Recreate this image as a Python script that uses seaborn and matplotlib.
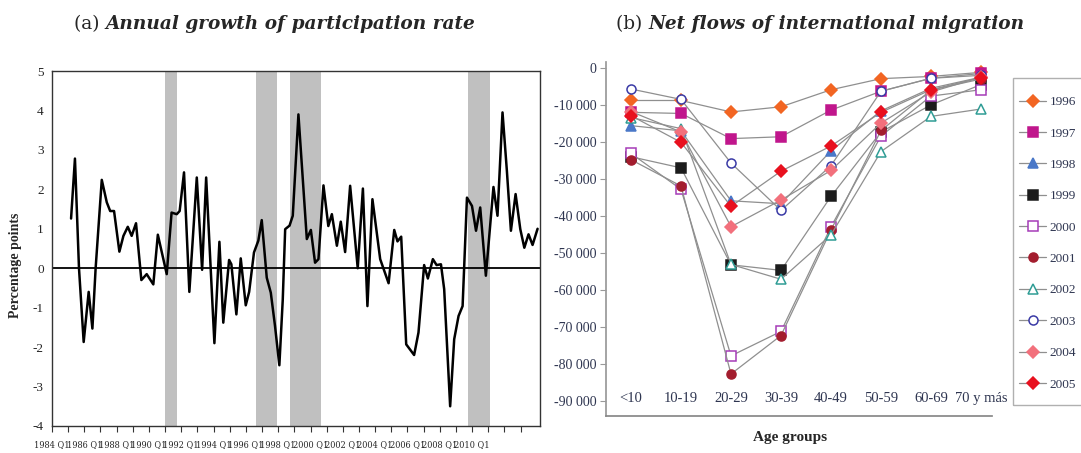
import matplotlib
matplotlib.use("Agg")
import matplotlib.pyplot as plt
from matplotlib import font_manager
from matplotlib.patches import Rectangle
import seaborn as sns

# ---------------- data: panel (a) ----------------
growth_year = [1985.18, 1985.42, 1985.67, 1985.96, 1986.27, 1986.5, 1986.7, 1987.08, 1987.39, 1987.6,
               1987.84, 1988.17, 1988.42, 1988.69, 1988.93, 1989.2, 1989.53, 1989.86, 1990.27, 1990.55,
               1991.1, 1991.4, 1991.72, 1991.9, 1992.17, 1992.5, 1992.96, 1993.29, 1993.54, 1994.05,
               1994.36, 1994.6, 1994.96, 1995.1, 1995.41, 1995.68, 1995.99, 1996.2, 1996.5, 1996.77,
               1996.98, 1997.29, 1997.54, 1997.8, 1998.07, 1998.28, 1998.43, 1998.7, 1998.9, 1999.25,
               1999.77, 2000.02, 2000.28, 2000.49, 2000.8, 2001.1, 2001.32, 2001.63, 2001.87, 2002.14,
               2002.45, 2002.92, 2003.24, 2003.52, 2003.83, 2004.31, 2004.83, 2005.18, 2005.38, 2005.61,
               2005.92, 2006.41, 2006.68, 2007.03, 2007.26, 2007.57, 2007.8, 2008.07, 2008.27, 2008.64,
               2008.89, 2009.16, 2009.41, 2009.68, 2009.99, 2010.24, 2010.5, 2010.85, 2011.32, 2011.57,
               2011.88, 2012.15, 2012.4, 2012.69, 2012.98, 2013.23, 2013.49, 2013.74, 2014.05]
growth_value = [1.26, 2.78, 0.0, -1.87, -0.6, -1.53, 0.0, 2.24, 1.67, 1.45,
                1.45, 0.42, 0.82, 1.05, 0.82, 1.14, -0.3, -0.15, -0.41, 0.85,
                -0.15, 1.41, 1.37, 1.45, 2.43, -0.6, 2.3, -0.04, 2.3, -1.9,
                0.67, -1.38, 0.21, 0.1, -1.17, 0.25, -0.94, -0.6, 0.4, 0.7,
                1.22, -0.24, -0.62, -1.46, -2.46, -0.8, 0.99, 1.08, 1.33, 3.9,
                0.74, 0.97, 0.14, 0.23, 2.1, 1.07, 1.37, 0.57, 1.18, 0.41,
                2.09, 0.0, 2.02, -0.96, 1.75, 0.23, -0.38, 0.97, 0.68, 0.8,
                -1.93, -2.2, -1.63, 0.08, -0.26, 0.23, 0.08, 0.1, -0.53, -3.5,
                -1.8, -1.21, -0.96, 1.79, 1.58, 0.95, 1.54, -0.19, 2.06, 1.33,
                3.95, 2.47, 0.95, 1.88, 0.99, 0.52, 0.86, 0.59, 1.0]
shade_start = [1991.0, 1996.6, 1998.75, 2009.76]
shade_end = [1991.75, 1997.9, 2000.65, 2011.1]
label_years = list(range(1984, 2011, 2))
year_labels = [f"{y} Q1" for y in label_years]
y_ticks_a = [-4, -3, -2, -1, 0, 1, 2, 3, 4, 5]

# ---------------- data: panel (b) ----------------
ages = ["<10", "10-19", "20-29", "30-39", "40-49", "50-59", "60-69", "70 y más"]
years_b = ["1996", "1997", "1998", "1999", "2000", "2001", "2002", "2003", "2004", "2005"]
f1996 = [-8800, -8800, -11900, -10500, -5900, -2900, -2300, -1200]
f1997 = [-12000, -12300, -19100, -18600, -11400, -6300, -2800, -1500]
f1998 = [-15600, -17000, -35900, -36700, -22400, -11600, -5500, -2500]
f1999 = [-24000, -27000, -53200, -54700, -34700, -17300, -10000, -4500]
f2000 = [-23100, -32800, -77800, -71200, -42900, -18400, -7600, -5900]
f2001 = [-24800, -31900, -82700, -72300, -43800, -16900, -6000, -3000]
f2002 = [-13400, -16400, -53100, -57100, -45100, -22600, -13100, -11100]
f2003 = [-5700, -8500, -25700, -38500, -26400, -6300, -2800, -2000]
f2004 = [-11800, -17300, -42900, -35700, -27700, -14900, -6500, -2500]
f2005 = [-12900, -20100, -37400, -27900, -21100, -12000, -5900, -2600]
flows = [f1996, f1997, f1998, f1999, f2000, f2001, f2002, f2003, f2004, f2005]
y_ticks_b = list(range(0, -90001, -10000))

# marker styles: (marker, face, edge)
styles = [("D", "#f26522", "#f26522"),
          ("s", "#c0168c", "#c0168c"),
          ("^", "#4a78c8", "#4a78c8"),
          ("s", "#1c1c1c", "#1c1c1c"),
          ("s", "white", "#a63cb8"),
          ("o", "#a31d2e", "#a31d2e"),
          ("^", "white", "#2f9d95"),
          ("o", "white", "#3a3aa6"),
          ("D", "#f2707c", "#f2707c"),
          ("D", "#e8101e", "#e8101e")]

sns.set_theme(style="white")
plt.rcParams['font.family'] = ['Liberation Serif', 'DejaVu Serif']

# condensed serif for narrow tick labels, if available
try:
    cond_path = font_manager.findfont(
        font_manager.FontProperties(family="DejaVu Serif", stretch="condensed"),
        fallback_to_default=False)
except Exception:
    cond_path = ""
HAVE_COND = "Condensed" in cond_path

W, H = 1081, 453
fig = plt.figure(figsize=(W / 100, H / 100), dpi=100)
axL = fig.add_axes([52 / W, 1 - 426 / H, (540 - 52) / W, (426 - 71) / H])
axR = fig.add_axes([606 / W, 1 - 416 / H, (992 - 606) / W, (416 - 62) / H])

# ---------- panel (a) ----------
for a, b in zip(shade_start, shade_end):
    axL.axvspan(a, b, color="#c0c0c0", lw=0, zorder=0)
axL.axhline(0, color="black", lw=1.3, zorder=1)
sns.lineplot(x=growth_year, y=growth_value, ax=axL, color="black", lw=1.8, zorder=3)
axL.set_xlim(1984, 2014.2)
axL.set_ylim(-4, 5)
axL.set_yticks(y_ticks_a)
axL.set_yticklabels([str(v) for v in y_ticks_a], fontsize=9.5)
axL.set_xticks(label_years)
if HAVE_COND:
    axL.set_xticklabels(year_labels, fontproperties=font_manager.FontProperties(
        family="DejaVu Serif", stretch="condensed", size=6.6))
else:
    axL.set_xticklabels(year_labels, fontsize=6.3)
axL.set_xticks(list(range(1984, 2014)), minor=True)
axL.tick_params(axis="x", which="both", direction="out", length=4, width=0.8, color="#333", pad=6, bottom=True)
axL.tick_params(axis="y", length=0, pad=6)
for s in axL.spines.values():
    s.set_color("#333")
    s.set_linewidth(1.0)
axL.set_ylabel("Percentage points", fontweight="bold", fontsize=10)
axL.yaxis.set_label_coords(-0.062, 0.453)
axL.set_xlabel("")

# ---------- panel (b) ----------
xpos = list(range(len(ages)))
for yr, vals, (mk, fc, ec) in zip(years_b, flows, styles):
    sns.lineplot(x=xpos, y=vals, ax=axR, color="#8f8f8f", lw=0.9, marker=mk,
                 markersize=6.5 if mk != "D" else 5.8, markerfacecolor=fc,
                 markeredgecolor=ec, markeredgewidth=1.1, label=yr, clip_on=False)
if axR.get_legend() is not None:
    axR.get_legend().remove()
axR.set_xlim(-0.5, 7.22)
axR.set_ylim(-94050, 1600)
axR.set_yticks(y_ticks_b)
axR.set_yticklabels([f"{v:,}".replace(",", " ") for v in y_ticks_b], fontsize=10, color="#2e3550")
axR.set_xticks(xpos)
axR.set_xticklabels(ages, fontsize=10.5, color="#2e3550")
axR.tick_params(axis="x", length=0, pad=-17)
axR.tick_params(axis="y", direction="out", length=4, width=0.8, color="#999", left=True, pad=3)
axR.spines["top"].set_visible(False)
axR.spines["right"].set_visible(False)
axR.spines["left"].set_color("#999")
axR.spines["bottom"].set_color("#888")
axR.set_xlabel("")
axR.set_ylabel("")

# legend: frameless legend plus a separate frame rectangle
fig.patches.append(Rectangle((1013 / W, 1 - 405 / H), (1090 - 1013) / W, (405 - 78) / H,
                             transform=fig.transFigure, fill=False, edgecolor="#b0b0b0", lw=1.0))
handles, labels = axR.get_legend_handles_labels()
leg = fig.legend(handles, labels, loc="upper left", bbox_to_anchor=(1019 / W, 1 - 96 / H),
                 frameon=False, fontsize=9.5, labelspacing=1.45, handlelength=2.05,
                 handletextpad=0.25, borderpad=0, borderaxespad=0)
for t in leg.get_texts():
    t.set_color("#2e3550")

fig.text(790 / W, 1 - 437 / H, "Age groups", ha="center", va="center", fontsize=11, fontweight="bold")

# ---------- titles ----------
tkw = dict(fontsize=13.3, family="DejaVu Serif")
t1 = fig.text(74 / W, 1 - 29 / H, "(a) ", ha="left", va="baseline", **tkw)
axL.annotate("Annual growth of participation rate", xy=(1, 0), xycoords=t1, ha="left", va="bottom",
             fontweight="bold", fontstyle="italic", annotation_clip=False, **tkw)
t2 = fig.text(616 / W, 1 - 29 / H, "(b) ", ha="left", va="baseline", **tkw)
axR.annotate("Net flows of international migration", xy=(1, 0), xycoords=t2, ha="left", va="bottom",
             fontweight="bold", fontstyle="italic", annotation_clip=False, **tkw)

fig.savefig("out.png", dpi=100)
